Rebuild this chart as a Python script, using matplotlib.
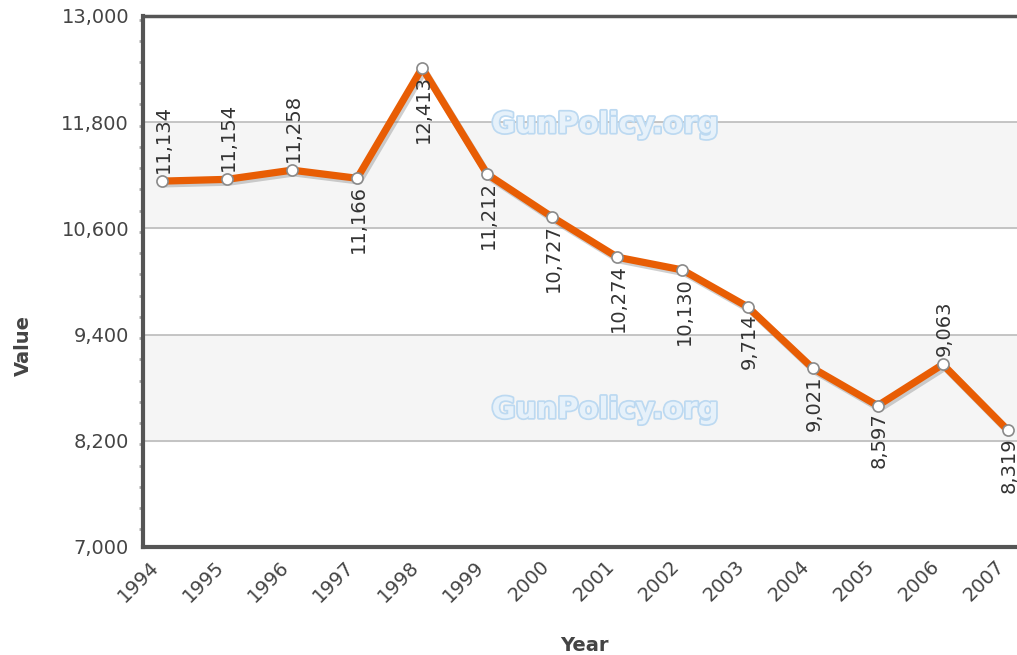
import matplotlib
matplotlib.use('Agg')
import matplotlib.pyplot as plt
import matplotlib.patheffects as pe
import matplotlib.transforms as mtransforms
from matplotlib.ticker import FuncFormatter, MultipleLocator

# Data
years = [1994, 1995, 1996, 1997, 1998, 1999, 2000,
         2001, 2002, 2003, 2004, 2005, 2006, 2007]
values = [11134, 11154, 11258, 11166, 12413, 11212, 10727,
          10274, 10130, 9714, 9021, 8597, 9063, 8319]
y_ticks = [7000, 8200, 9400, 10600, 11800, 13000]
bands = [(8200, 9400), (10600, 11800)]

line_color = "#E85D04"
text_color = "#444444"

fig = plt.figure(figsize=(10.17, 6.55), dpi=100)
# the plot area runs past the right edge of the picture, like the original
ax = fig.add_axes([0.1406, 0.1649, 0.869, 0.8107])

ax.set_xlim(years[0] - 0.29, years[-1] + 0.29)
ax.set_ylim(y_ticks[0], y_ticks[-1])

# alternating bands and grid lines
for lo, hi in bands:
    ax.axhspan(lo, hi, color="#f5f5f5", zorder=0)
for t in y_ticks[1:-1]:
    ax.axhline(t, color="#bbbbbb", lw=1.2, zorder=1)

# watermark
for yy in (0.795, 0.258):
    ax.text(0.523, yy, "GunPolicy.org", transform=ax.transAxes,
            ha="center", va="center", fontsize=21, weight="bold",
            color="#e6f1fa", zorder=1,
            path_effects=[pe.withStroke(linewidth=2.5, foreground="#bcd9f1")])

# main line with a soft shadow
ax.plot(years, values, color=line_color, lw=5.2, zorder=3,
        solid_joinstyle="round", solid_capstyle="round",
        path_effects=[pe.SimpleLineShadow(offset=(1.5, -2), shadow_color="#777777", alpha=0.35),
                      pe.Normal()])
ax.plot(years, values, "o", ms=8, mfc="white", mec="#8a8a8a", mew=1.2, zorder=4)

# value labels, rotated; above the point when the value rose and there is room
for i, (x, v) in enumerate(zip(years, values)):
    above = (i == 0 or v > values[i - 1]) and v < 12000
    if above:
        ax.annotate(f"{v:,}", (x, v), xytext=(1, 6), textcoords="offset points",
                    rotation=90, ha="center", va="bottom", fontsize=14,
                    color="#333333", zorder=5)
    else:
        ax.annotate(f"{v:,}", (x, v), xytext=(1, -5), textcoords="offset points",
                    rotation=90, ha="center", va="top", fontsize=14,
                    color="#333333", zorder=5)

# axes styling
for side in ["left", "bottom", "top"]:
    ax.spines[side].set_color("#555555")
ax.spines["left"].set_linewidth(3)
ax.spines["bottom"].set_linewidth(3)
ax.spines["top"].set_linewidth(2.5)
ax.spines["right"].set_visible(False)

ax.set_yticks(y_ticks)
ax.yaxis.set_major_formatter(FuncFormatter(lambda v, p: f"{int(v):,}"))
ax.yaxis.set_minor_locator(MultipleLocator(240))
ax.tick_params(axis="y", which="major", length=0, pad=10,
               labelsize=14, labelcolor=text_color)
ax.tick_params(axis="y", which="minor", length=3, width=2, color="#aaaaaa")

ax.set_xticks(years)
ax.set_xticklabels([str(y) for y in years], rotation=45, ha="right", va="center",
                   rotation_mode="anchor", fontsize=14, color=text_color)
ax.tick_params(axis="x", length=0, pad=12)
shift = mtransforms.ScaledTranslation(-6 / 100, 0, fig.dpi_scale_trans)
for lbl in ax.get_xticklabels():
    lbl.set_transform(lbl.get_transform() + shift)

ax.set_xlabel("Year", fontsize=14, weight="bold", color=text_color, labelpad=22)
ax.set_ylabel("Value", fontsize=14, weight="bold", color=text_color)
ax.yaxis.set_label_coords(-0.125, 0.38)

plt.savefig("out.png", dpi=100)
plt.close()
